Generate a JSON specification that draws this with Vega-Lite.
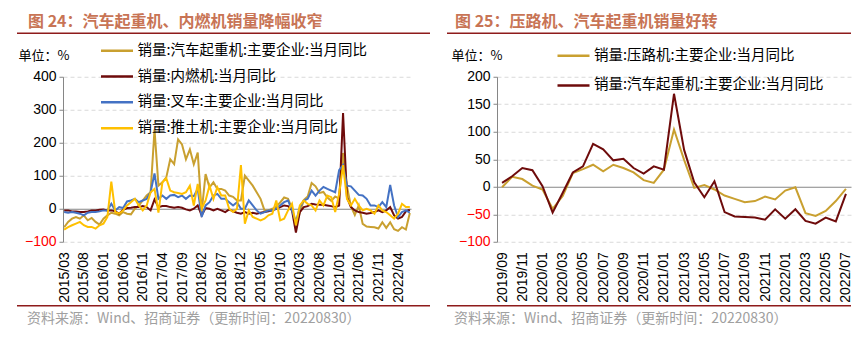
{
  "$schema": "https://vega.github.io/schema/vega-lite/v6.json",
  "padding": {"left": 17, "top": 13.5, "right": 5, "bottom": 5},
  "background": "white",
  "config": {"view": {"stroke": null}, "font": "Noto Sans CJK SC"},
  "resolve": {"scale": {"color": "independent"}},
  "spacing": 2.25,
  "datasets": {
    "left": [
      {"d":"2015/03","销量:汽车起重机:主要企业:当月同比":-56,"销量:内燃机:当月同比":-5,"销量:叉车:主要企业:当月同比":-10,"销量:推土机:主要企业:当月同比":-63},
      {"d":"2015/04","销量:汽车起重机:主要企业:当月同比":-40,"销量:内燃机:当月同比":-5,"销量:叉车:主要企业:当月同比":-12,"销量:推土机:主要企业:当月同比":-56},
      {"d":"2015/05","销量:汽车起重机:主要企业:当月同比":-30,"销量:内燃机:当月同比":-8,"销量:叉车:主要企业:当月同比":-10,"销量:推土机:主要企业:当月同比":-50},
      {"d":"2015/06","销量:汽车起重机:主要企业:当月同比":-25,"销量:内燃机:当月同比":-8,"销量:叉车:主要企业:当月同比":-12,"销量:推土机:主要企业:当月同比":-45},
      {"d":"2015/07","销量:汽车起重机:主要企业:当月同比":-30,"销量:内燃机:当月同比":-10,"销量:叉车:主要企业:当月同比":-15,"销量:推土机:主要企业:当月同比":-40},
      {"d":"2015/08","销量:汽车起重机:主要企业:当月同比":-20,"销量:内燃机:当月同比":-10,"销量:叉车:主要企业:当月同比":-20,"销量:推土机:主要企业:当月同比":-50},
      {"d":"2015/09","销量:汽车起重机:主要企业:当月同比":-35,"销量:内燃机:当月同比":-8,"销量:叉车:主要企业:当月同比":-12,"销量:推土机:主要企业:当月同比":-55},
      {"d":"2015/10","销量:汽车起重机:主要企业:当月同比":-28,"销量:内燃机:当月同比":-5,"销量:叉车:主要企业:当月同比":-10,"销量:推土机:主要企业:当月同比":-55},
      {"d":"2015/11","销量:汽车起重机:主要企业:当月同比":-40,"销量:内燃机:当月同比":-5,"销量:叉车:主要企业:当月同比":-10,"销量:推土机:主要企业:当月同比":-60},
      {"d":"2015/12","销量:汽车起重机:主要企业:当月同比":-48,"销量:内燃机:当月同比":-3,"销量:叉车:主要企业:当月同比":-8,"销量:推土机:主要企业:当月同比":-50},
      {"d":"2016/01","销量:汽车起重机:主要企业:当月同比":-30,"销量:内燃机:当月同比":-2,"销量:叉车:主要企业:当月同比":-5,"销量:推土机:主要企业:当月同比":-45},
      {"d":"2016/02","销量:汽车起重机:主要企业:当月同比":-20,"销量:内燃机:当月同比":-5,"销量:叉车:主要企业:当月同比":-5,"销量:推土机:主要企业:当月同比":-25},
      {"d":"2016/03","销量:汽车起重机:主要企业:当月同比":-12,"销量:内燃机:当月同比":-5,"销量:叉车:主要企业:当月同比":15,"销量:推土机:主要企业:当月同比":82},
      {"d":"2016/04","销量:汽车起重机:主要企业:当月同比":-15,"销量:内燃机:当月同比":-8,"销量:叉车:主要企业:当月同比":-5,"销量:推土机:主要企业:当月同比":-10},
      {"d":"2016/05","销量:汽车起重机:主要企业:当月同比":-20,"销量:内燃机:当月同比":-15,"销量:叉车:主要企业:当月同比":5,"销量:推土机:主要企业:当月同比":-15},
      {"d":"2016/06","销量:汽车起重机:主要企业:当月同比":-10,"销量:内燃机:当月同比":-3,"销量:叉车:主要企业:当月同比":2,"销量:推土机:主要企业:当月同比":-5},
      {"d":"2016/07","销量:汽车起重机:主要企业:当月同比":-15,"销量:内燃机:当月同比":2,"销量:叉车:主要企业:当月同比":22,"销量:推土机:主要企业:当月同比":10},
      {"d":"2016/08","销量:汽车起重机:主要企业:当月同比":-17,"销量:内燃机:当月同比":3,"销量:叉车:主要企业:当月同比":25,"销量:推土机:主要企业:当月同比":20},
      {"d":"2016/09","销量:汽车起重机:主要企业:当月同比":0,"销量:内燃机:当月同比":5,"销量:叉车:主要企业:当月同比":30,"销量:推土机:主要企业:当月同比":30},
      {"d":"2016/10","销量:汽车起重机:主要企业:当月同比":10,"销量:内燃机:当月同比":5,"销量:叉车:主要企业:当月同比":20,"销量:推土机:主要企业:当月同比":10},
      {"d":"2016/11","销量:汽车起重机:主要企业:当月同比":25,"销量:内燃机:当月同比":8,"销量:叉车:主要企业:当月同比":25,"销量:推土机:主要企业:当月同比":-5},
      {"d":"2016/12","销量:汽车起重机:主要企业:当月同比":40,"销量:内燃机:当月同比":5,"销量:叉车:主要企业:当月同比":30,"销量:推土机:主要企业:当月同比":10},
      {"d":"2017/01","销量:汽车起重机:主要企业:当月同比":50,"销量:内燃机:当月同比":-5,"销量:叉车:主要企业:当月同比":50,"销量:推土机:主要企业:当月同比":50},
      {"d":"2017/02","销量:汽车起重机:主要企业:当月同比":240,"销量:内燃机:当月同比":28,"销量:叉车:主要企业:当月同比":107,"销量:推土机:主要企业:当月同比":60},
      {"d":"2017/03","销量:汽车起重机:主要企业:当月同比":70,"销量:内燃机:当月同比":5,"销量:叉车:主要企业:当月同比":30,"销量:推土机:主要企业:当月同比":-12},
      {"d":"2017/04","销量:汽车起重机:主要企业:当月同比":80,"销量:内燃机:当月同比":8,"销量:叉车:主要企业:当月同比":40,"销量:推土机:主要企业:当月同比":80},
      {"d":"2017/05","销量:汽车起重机:主要企业:当月同比":95,"销量:内燃机:当月同比":8,"销量:叉车:主要企业:当月同比":30,"销量:推土机:主要企业:当月同比":92},
      {"d":"2017/06","销量:汽车起重机:主要企业:当月同比":150,"销量:内燃机:当月同比":5,"销量:叉车:主要企业:当月同比":40,"销量:推土机:主要企业:当月同比":55},
      {"d":"2017/07","销量:汽车起重机:主要企业:当月同比":135,"销量:内燃机:当月同比":3,"销量:叉车:主要企业:当月同比":42,"销量:推土机:主要企业:当月同比":50},
      {"d":"2017/08","销量:汽车起重机:主要企业:当月同比":210,"销量:内燃机:当月同比":5,"销量:叉车:主要企业:当月同比":35,"销量:推土机:主要企业:当月同比":48},
      {"d":"2017/09","销量:汽车起重机:主要企业:当月同比":195,"销量:内燃机:当月同比":3,"销量:叉车:主要企业:当月同比":40,"销量:推土机:主要企业:当月同比":45},
      {"d":"2017/10","销量:汽车起重机:主要企业:当月同比":150,"销量:内燃机:当月同比":-2,"销量:叉车:主要企业:当月同比":30,"销量:推土机:主要企业:当月同比":50},
      {"d":"2017/11","销量:汽车起重机:主要企业:当月同比":180,"销量:内燃机:当月同比":-5,"销量:叉车:主要企业:当月同比":40,"销量:推土机:主要企业:当月同比":70},
      {"d":"2017/12","销量:汽车起重机:主要企业:当月同比":135,"销量:内燃机:当月同比":0,"销量:叉车:主要企业:当月同比":38,"销量:推土机:主要企业:当月同比":10},
      {"d":"2018/01","销量:汽车起重机:主要企业:当月同比":170,"销量:内燃机:当月同比":10,"销量:叉车:主要企业:当月同比":60,"销量:推土机:主要企业:当月同比":75},
      {"d":"2018/02","销量:汽车起重机:主要企业:当月同比":-10,"销量:内燃机:当月同比":-20,"销量:叉车:主要企业:当月同比":-25,"销量:推土机:主要企业:当月同比":0},
      {"d":"2018/03","销量:汽车起重机:主要企业:当月同比":105,"销量:内燃机:当月同比":2,"销量:叉车:主要企业:当月同比":10,"销量:推土机:主要企业:当月同比":25},
      {"d":"2018/04","销量:汽车起重机:主要企业:当月同比":65,"销量:内燃机:当月同比":0,"销量:叉车:主要企业:当月同比":20,"销量:推土机:主要企业:当月同比":70},
      {"d":"2018/05","销量:汽车起重机:主要企业:当月同比":80,"销量:内燃机:当月同比":-5,"销量:叉车:主要企业:当月同比":40,"销量:推土机:主要企业:当月同比":30},
      {"d":"2018/06","销量:汽车起重机:主要企业:当月同比":60,"销量:内燃机:当月同比":0,"销量:叉车:主要企业:当月同比":45,"销量:推土机:主要企业:当月同比":65},
      {"d":"2018/07","销量:汽车起重机:主要企业:当月同比":60,"销量:内燃机:当月同比":-5,"销量:叉车:主要企业:当月同比":30,"销量:推土机:主要企业:当月同比":40},
      {"d":"2018/08","销量:汽车起重机:主要企业:当月同比":55,"销量:内燃机:当月同比":-10,"销量:叉车:主要企业:当月同比":30,"销量:推土机:主要企业:当月同比":40},
      {"d":"2018/09","销量:汽车起重机:主要企业:当月同比":40,"销量:内燃机:当月同比":-2,"销量:叉车:主要企业:当月同比":20,"销量:推土机:主要企业:当月同比":0},
      {"d":"2018/10","销量:汽车起重机:主要企业:当月同比":36,"销量:内燃机:当月同比":-8,"销量:叉车:主要企业:当月同比":10,"销量:推土机:主要企业:当月同比":-10},
      {"d":"2018/11","销量:汽车起重机:主要企业:当月同比":25,"销量:内燃机:当月同比":-12,"销量:叉车:主要企业:当月同比":20,"销量:推土机:主要企业:当月同比":0},
      {"d":"2018/12","销量:汽车起重机:主要企业:当月同比":25,"销量:内燃机:当月同比":-15,"销量:叉车:主要企业:当月同比":0,"销量:推土机:主要企业:当月同比":132},
      {"d":"2019/01","销量:汽车起重机:主要企业:当月同比":100,"销量:内燃机:当月同比":-10,"销量:叉车:主要企业:当月同比":0,"销量:推土机:主要企业:当月同比":-45},
      {"d":"2019/02","销量:汽车起重机:主要企业:当月同比":85,"销量:内燃机:当月同比":-15,"销量:叉车:主要企业:当月同比":25,"销量:推土机:主要企业:当月同比":-5},
      {"d":"2019/03","销量:汽车起重机:主要企业:当月同比":70,"销量:内燃机:当月同比":-12,"销量:叉车:主要企业:当月同比":10,"销量:推土机:主要企业:当月同比":-25},
      {"d":"2019/04","销量:汽车起重机:主要企业:当月同比":50,"销量:内燃机:当月同比":-15,"销量:叉车:主要企业:当月同比":-5,"销量:推土机:主要企业:当月同比":-30},
      {"d":"2019/05","销量:汽车起重机:主要企业:当月同比":30,"销量:内燃机:当月同比":-12,"销量:叉车:主要企业:当月同比":-15,"销量:推土机:主要企业:当月同比":-35},
      {"d":"2019/06","销量:汽车起重机:主要企业:当月同比":-5,"销量:内燃机:当月同比":-10,"销量:叉车:主要企业:当月同比":-10,"销量:推土机:主要企业:当月同比":-30},
      {"d":"2019/07","销量:汽车起重机:主要企业:当月同比":-5,"销量:内燃机:当月同比":-8,"销量:叉车:主要企业:当月同比":-5,"销量:推土机:主要企业:当月同比":-20},
      {"d":"2019/08","销量:汽车起重机:主要企业:当月同比":0,"销量:内燃机:当月同比":-5,"销量:叉车:主要企业:当月同比":-5,"销量:推土机:主要企业:当月同比":-15},
      {"d":"2019/09","销量:汽车起重机:主要企业:当月同比":7,"销量:内燃机:当月同比":0,"销量:叉车:主要企业:当月同比":0,"销量:推土机:主要企业:当月同比":25},
      {"d":"2019/10","销量:汽车起重机:主要企业:当月同比":19,"销量:内燃机:当月同比":5,"销量:叉车:主要企业:当月同比":10,"销量:推土机:主要企业:当月同比":-35},
      {"d":"2019/11","销量:汽车起重机:主要企业:当月同比":34,"销量:内燃机:当月同比":10,"销量:叉车:主要企业:当月同比":20,"销量:推土机:主要企业:当月同比":-30},
      {"d":"2019/12","销量:汽车起重机:主要企业:当月同比":30,"销量:内燃机:当月同比":8,"销量:叉车:主要企业:当月同比":25,"销量:推土机:主要企业:当月同比":-5},
      {"d":"2020/01","销量:汽车起重机:主要企业:当月同比":1,"销量:内燃机:当月同比":-5,"销量:叉车:主要企业:当月同比":-5,"销量:推土机:主要企业:当月同比":15},
      {"d":"2020/02","销量:汽车起重机:主要企业:当月同比":-47,"销量:内燃机:当月同比":-72,"销量:叉车:主要企业:当月同比":-40,"销量:推土机:主要企业:当月同比":-50},
      {"d":"2020/03","销量:汽车起重机:主要企业:当月同比":-11,"销量:内燃机:当月同比":-10,"销量:叉车:主要企业:当月同比":5,"销量:推土机:主要企业:当月同比":10},
      {"d":"2020/04","销量:汽车起重机:主要企业:当月同比":26,"销量:内燃机:当月同比":5,"销量:叉车:主要企业:当月同比":25,"销量:推土机:主要企业:当月同比":25},
      {"d":"2020/05","销量:汽车起重机:主要企业:当月同比":37,"销量:内燃机:当月同比":8,"销量:叉车:主要企业:当月同比":30,"销量:推土机:主要企业:当月同比":15},
      {"d":"2020/06","销量:汽车起重机:主要企业:当月同比":78,"销量:内燃机:当月同比":15,"销量:叉车:主要企业:当月同比":55,"销量:推土机:主要企业:当月同比":10},
      {"d":"2020/07","销量:汽车起重机:主要企业:当月同比":68,"销量:内燃机:当月同比":13,"销量:叉车:主要企业:当月同比":40,"销量:推土机:主要企业:当月同比":-5},
      {"d":"2020/08","销量:汽车起重机:主要企业:当月同比":48,"销量:内燃机:当月同比":12,"销量:叉车:主要企业:当月同比":55,"销量:推土机:主要企业:当月同比":25},
      {"d":"2020/09","销量:汽车起重机:主要企业:当月同比":51,"销量:内燃机:当月同比":12,"销量:叉车:主要企业:当月同比":66,"销量:推土机:主要企业:当月同比":10},
      {"d":"2020/10","销量:汽车起重机:主要企业:当月同比":34,"销量:内燃机:当月同比":10,"销量:叉车:主要企业:当月同比":60,"销量:推土机:主要企业:当月同比":40},
      {"d":"2020/11","销量:汽车起重机:主要企业:当月同比":24,"销量:内燃机:当月同比":8,"销量:叉车:主要企业:当月同比":55,"销量:推土机:主要企业:当月同比":35},
      {"d":"2020/12","销量:汽车起重机:主要企业:当月同比":37,"销量:内燃机:当月同比":5,"销量:叉车:主要企业:当月同比":50,"销量:推土机:主要企业:当月同比":-10},
      {"d":"2021/01","销量:汽车起重机:主要企业:当月同比":31,"销量:内燃机:当月同比":10,"销量:叉车:主要企业:当月同比":117,"销量:推土机:主要企业:当月同比":45},
      {"d":"2021/02","销量:汽车起重机:主要企业:当月同比":169,"销量:内燃机:当月同比":290,"销量:叉车:主要企业:当月同比":132,"销量:推土机:主要企业:当月同比":132},
      {"d":"2021/03","销量:汽车起重机:主要企业:当月同比":67,"销量:内燃机:当月同比":35,"销量:叉车:主要企业:当月同比":70,"销量:推土机:主要企业:当月同比":30},
      {"d":"2021/04","销量:汽车起重机:主要企业:当月同比":8,"销量:内燃机:当月同比":5,"销量:叉车:主要企业:当月同比":68,"销量:推土机:主要企业:当月同比":10},
      {"d":"2021/05","销量:汽车起重机:主要企业:当月同比":-19,"销量:内燃机:当月同比":-5,"销量:叉车:主要企业:当月同比":55,"销量:推土机:主要企业:当月同比":30},
      {"d":"2021/06","销量:汽车起重机:主要企业:当月同比":10,"销量:内燃机:当月同比":-10,"销量:叉车:主要企业:当月同比":42,"销量:推土机:主要企业:当月同比":10},
      {"d":"2021/07","销量:汽车起重机:主要企业:当月同比":-46,"销量:内燃机:当月同比":-12,"销量:叉车:主要企业:当月同比":40,"销量:推土机:主要企业:当月同比":-5},
      {"d":"2021/08","销量:汽车起重机:主要企业:当月同比":-54,"销量:内燃机:当月同比":-15,"销量:叉车:主要企业:当月同比":30,"销量:推土机:主要企业:当月同比":0},
      {"d":"2021/09","销量:汽车起重机:主要企业:当月同比":-55,"销量:内燃机:当月同比":-13,"销量:叉车:主要企业:当月同比":10,"销量:推土机:主要企业:当月同比":-5},
      {"d":"2021/10","销量:汽车起重机:主要企业:当月同比":-56,"销量:内燃机:当月同比":-10,"销量:叉车:主要企业:当月同比":10,"销量:推土机:主要企业:当月同比":-15},
      {"d":"2021/11","销量:汽车起重机:主要企业:当月同比":-60,"销量:内燃机:当月同比":-5,"销量:叉车:主要企业:当月同比":5,"销量:推土机:主要企业:当月同比":10},
      {"d":"2021/12","销量:汽车起重机:主要企业:当月同比":-41,"销量:内燃机:当月同比":-10,"销量:叉车:主要企业:当月同比":20,"销量:推土机:主要企业:当月同比":-5},
      {"d":"2022/01","销量:汽车起重机:主要企业:当月同比":-58,"销量:内燃机:当月同比":-5,"销量:叉车:主要企业:当月同比":5,"销量:推土机:主要企业:当月同比":-10},
      {"d":"2022/02","销量:汽车起重机:主要企业:当月同比":-41,"销量:内燃机:当月同比":5,"销量:叉车:主要企业:当月同比":72,"销量:推土机:主要企业:当月同比":-20},
      {"d":"2022/03","销量:汽车起重机:主要企业:当月同比":-62,"销量:内燃机:当月同比":-20,"销量:叉车:主要企业:当月同比":10,"销量:推土机:主要企业:当月同比":-30},
      {"d":"2022/04","销量:汽车起重机:主要企业:当月同比":-67,"销量:内燃机:当月同比":-30,"销量:叉车:主要企业:当月同比":-25,"销量:推土机:主要企业:当月同比":-15},
      {"d":"2022/05","销量:汽车起重机:主要企业:当月同比":-56,"销量:内燃机:当月同比":-25,"销量:叉车:主要企业:当月同比":-10,"销量:推土机:主要企业:当月同比":15},
      {"d":"2022/06","销量:汽车起重机:主要企业:当月同比":-63,"销量:内燃机:当月同比":-8,"销量:叉车:主要企业:当月同比":-5,"销量:推土机:主要企业:当月同比":5},
      {"d":"2022/07","销量:汽车起重机:主要企业:当月同比":-13,"销量:内燃机:当月同比":-3,"销量:叉车:主要企业:当月同比":-12,"销量:推土机:主要企业:当月同比":5}
    ],
    "right": [
      {"d":"2019/09","销量:压路机:主要企业:当月同比":-1,"销量:汽车起重机:主要企业:当月同比":7},
      {"d":"2019/10","销量:压路机:主要企业:当月同比":18,"销量:汽车起重机:主要企业:当月同比":19},
      {"d":"2019/11","销量:压路机:主要企业:当月同比":14,"销量:汽车起重机:主要企业:当月同比":34},
      {"d":"2019/12","销量:压路机:主要企业:当月同比":2,"销量:汽车起重机:主要企业:当月同比":30},
      {"d":"2020/01","销量:压路机:主要企业:当月同比":-5,"销量:汽车起重机:主要企业:当月同比":1},
      {"d":"2020/02","销量:压路机:主要企业:当月同比":-40,"销量:汽车起重机:主要企业:当月同比":-47},
      {"d":"2020/03","销量:压路机:主要企业:当月同比":-17,"销量:汽车起重机:主要企业:当月同比":-11},
      {"d":"2020/04","销量:压路机:主要企业:当月同比":25,"销量:汽车起重机:主要企业:当月同比":26},
      {"d":"2020/05","销量:压路机:主要企业:当月同比":32,"销量:汽车起重机:主要企业:当月同比":37},
      {"d":"2020/06","销量:压路机:主要企业:当月同比":40,"销量:汽车起重机:主要企业:当月同比":78},
      {"d":"2020/07","销量:压路机:主要企业:当月同比":28,"销量:汽车起重机:主要企业:当月同比":68},
      {"d":"2020/08","销量:压路机:主要企业:当月同比":40,"销量:汽车起重机:主要企业:当月同比":48},
      {"d":"2020/09","销量:压路机:主要企业:当月同比":34,"销量:汽车起重机:主要企业:当月同比":51},
      {"d":"2020/10","销量:压路机:主要企业:当月同比":26,"销量:汽车起重机:主要企业:当月同比":34},
      {"d":"2020/11","销量:压路机:主要企业:当月同比":12,"销量:汽车起重机:主要企业:当月同比":24},
      {"d":"2020/12","销量:压路机:主要企业:当月同比":7,"销量:汽车起重机:主要企业:当月同比":37},
      {"d":"2021/01","销量:压路机:主要企业:当月同比":31,"销量:汽车起重机:主要企业:当月同比":31},
      {"d":"2021/02","销量:压路机:主要企业:当月同比":104,"销量:汽车起重机:主要企业:当月同比":169},
      {"d":"2021/03","销量:压路机:主要企业:当月同比":49,"销量:汽车起重机:主要企业:当月同比":67},
      {"d":"2021/04","销量:压路机:主要企业:当月同比":-2,"销量:汽车起重机:主要企业:当月同比":8},
      {"d":"2021/05","销量:压路机:主要企业:当月同比":3,"销量:汽车起重机:主要企业:当月同比":-19},
      {"d":"2021/06","销量:压路机:主要企业:当月同比":-5,"销量:汽车起重机:主要企业:当月同比":10},
      {"d":"2021/07","销量:压路机:主要企业:当月同比":-16,"销量:汽车起重机:主要企业:当月同比":-46},
      {"d":"2021/08","销量:压路机:主要企业:当月同比":-22,"销量:汽车起重机:主要企业:当月同比":-54},
      {"d":"2021/09","销量:压路机:主要企业:当月同比":-28,"销量:汽车起重机:主要企业:当月同比":-55},
      {"d":"2021/10","销量:压路机:主要企业:当月同比":-26,"销量:汽车起重机:主要企业:当月同比":-56},
      {"d":"2021/11","销量:压路机:主要企业:当月同比":-18,"销量:汽车起重机:主要企业:当月同比":-60},
      {"d":"2021/12","销量:压路机:主要企业:当月同比":-23,"销量:汽车起重机:主要企业:当月同比":-41},
      {"d":"2022/01","销量:压路机:主要企业:当月同比":-7,"销量:汽车起重机:主要企业:当月同比":-58},
      {"d":"2022/02","销量:压路机:主要企业:当月同比":-1,"销量:汽车起重机:主要企业:当月同比":-41},
      {"d":"2022/03","销量:压路机:主要企业:当月同比":-48,"销量:汽车起重机:主要企业:当月同比":-62},
      {"d":"2022/04","销量:压路机:主要企业:当月同比":-53,"销量:汽车起重机:主要企业:当月同比":-67},
      {"d":"2022/05","销量:压路机:主要企业:当月同比":-44,"销量:汽车起重机:主要企业:当月同比":-56},
      {"d":"2022/06","销量:压路机:主要企业:当月同比":-26,"销量:汽车起重机:主要企业:当月同比":-63},
      {"d":"2022/07","销量:压路机:主要企业:当月同比":-4,"销量:汽车起重机:主要企业:当月同比":-13}
    ]
  },
  "vconcat": [
    {
      "spacing": 17,
      "hconcat": [
        {
          "width": 413, "height": 1.5,
          "data": {"values": []},
          "mark": "text", "encoding": {},
          "view": {"fill": "#8E1B1B", "stroke": null},
          "title": {"text": "图 24：汽车起重机、内燃机销量降幅收窄", "anchor": "start", "frame": "group", "orient": "top", "offset": 3, "dx": 11, "fontSize": 16, "fontWeight": "bold", "color": "#C87455", "font": "Noto Sans CJK SC"}
        },
        {
          "width": 404, "height": 1.5,
          "data": {"values": []},
          "mark": "text", "encoding": {},
          "view": {"fill": "#8E1B1B", "stroke": null},
          "title": {"text": "图 25：压路机、汽车起重机销量好转", "anchor": "start", "frame": "group", "orient": "top", "offset": 3, "dx": 8, "fontSize": 16, "fontWeight": "bold", "color": "#C87455", "font": "Noto Sans CJK SC"}
        }
      ]
    },
    {
      "spacing": 37,
      "resolve": {"scale": {"color": "independent"}},
      "hconcat": [
        {
          "spacing": 0,
          "hconcat": [
            {
              "width": 0.5, "height": 1,
              "data": {"values": []},
              "mark": "text", "encoding": {}
            },
            {
              "width": 348, "height": 165,
              "data": {"name": "left"},
              "transform": [{"fold": ["销量:汽车起重机:主要企业:当月同比", "销量:内燃机:当月同比", "销量:叉车:主要企业:当月同比", "销量:推土机:主要企业:当月同比"], "as": ["series", "value"]}],
              "mark": {"type": "line", "strokeWidth": 2},
              "encoding": {
                "x": {"field": "d", "type": "ordinal", "scale": {"type": "point", "padding": 0.3},
                  "axis": {"values": ["2015/03","2015/08","2016/01","2016/06","2016/11","2017/04","2017/09","2018/02","2018/07","2018/12","2019/05","2019/10","2020/03","2020/08","2021/01","2021/06","2021/11","2022/04"],
                    "labelAngle": -90, "labelFont": "Liberation Sans", "labelFontSize": 14, "labelColor": "#000000", "ticks": false, "domain": false, "grid": false, "labelPadding": 10, "title": null, "labelOverlap": false}},
                "y": {"field": "value", "type": "quantitative", "scale": {"domain": [-100, 400], "nice": false, "zero": false},
                  "axis": {"values": [-100, 0, 100, 200, 300, 400], "title": "单位：%", "titleAngle": 0, "titleAlign": "left", "titleBaseline": "middle", "titleX": -45, "titleY": -21, "titleFont": "Noto Sans CJK SC", "titleFontSize": 13, "titleFontWeight": "normal", "titleColor": "#000000",
                    "labelFont": "Liberation Sans", "labelFontSize": 14, "labelPadding": 3,
                    "labelColor": {"condition": {"test": "datum.value < 0", "value": "#FF0000"}, "value": "#000000"},
                    "domainColor": "#868686", "tickColor": "#868686", "tickSize": 4,
                    "gridColor": {"condition": {"test": "datum.value === 0", "value": "#868686"}, "value": "#D9D9D9"},
                    "gridDash": {"condition": {"test": "datum.value === 0", "value": []}, "value": [4, 3]}}},
                "color": {"field": "series", "type": "nominal",
                  "scale": {"domain": ["销量:汽车起重机:主要企业:当月同比", "销量:内燃机:当月同比", "销量:叉车:主要企业:当月同比", "销量:推土机:主要企业:当月同比"], "range": ["#C9A030", "#6E0B0B", "#4472C4", "#FFC000"]},
                  "legend": {"title": null, "orient": "none", "legendX": 76.5, "legendY": -40, "direction": "vertical", "padding": 6, "symbolType": "stroke", "symbolSize": 1024, "symbolStrokeWidth": 2.5, "clipHeight": 16, "rowPadding": 9.8, "labelOffset": 3, "labelFont": "Noto Sans CJK SC", "labelFontSize": 14.5, "labelColor": "#000000", "labelLimit": 500}}
              }
            }
          ]
        },
        {
          "width": 354, "height": 165,
          "data": {"name": "right"},
          "transform": [{"fold": ["销量:压路机:主要企业:当月同比", "销量:汽车起重机:主要企业:当月同比"], "as": ["series", "value"]}],
          "mark": {"type": "line", "strokeWidth": 2},
          "encoding": {
            "x": {"field": "d", "type": "ordinal", "scale": {"type": "point", "padding": 0.5},
              "axis": {"values": ["2019/09","2019/11","2020/01","2020/03","2020/05","2020/07","2020/09","2020/11","2021/01","2021/03","2021/05","2021/07","2021/09","2021/11","2022/01","2022/03","2022/05","2022/07"],
                "labelAngle": -90, "labelFont": "Liberation Sans", "labelFontSize": 14, "labelColor": "#000000", "ticks": false, "domain": false, "grid": false, "labelPadding": 10, "title": null, "labelOverlap": false}},
            "y": {"field": "value", "type": "quantitative", "scale": {"domain": [-100, 200], "nice": false, "zero": false},
              "axis": {"values": [-100, -50, 0, 50, 100, 150, 200], "title": "单位：%", "titleAngle": 0, "titleAlign": "left", "titleBaseline": "middle", "titleX": -46, "titleY": -21, "titleFont": "Noto Sans CJK SC", "titleFontSize": 13, "titleFontWeight": "normal", "titleColor": "#000000",
                "labelFont": "Liberation Sans", "labelFontSize": 14, "labelPadding": 3,
                "labelColor": {"condition": {"test": "datum.value < 0", "value": "#FF0000"}, "value": "#000000"},
                "domainColor": "#868686", "tickColor": "#868686", "tickSize": 4,
                "gridColor": {"condition": {"test": "datum.value === 0", "value": "#868686"}, "value": "#D9D9D9"},
                "gridDash": {"condition": {"test": "datum.value === 0", "value": []}, "value": [4, 3]}}},
            "color": {"field": "series", "type": "nominal",
              "scale": {"domain": ["销量:压路机:主要企业:当月同比", "销量:汽车起重机:主要企业:当月同比"], "range": ["#C9A030", "#6E0B0B"]},
              "legend": {"title": null, "orient": "none", "legendX": 53, "legendY": -35, "direction": "vertical", "padding": 6, "symbolType": "stroke", "symbolSize": 1024, "symbolStrokeWidth": 2.5, "clipHeight": 16, "rowPadding": 13.7, "labelOffset": 3, "labelFont": "Noto Sans CJK SC", "labelFontSize": 14.5, "labelColor": "#000000", "labelLimit": 500}}
          }
        }
      ]
    },
    {
      "spacing": 17,
      "hconcat": [
        {
          "width": 413, "height": 1.5,
          "data": {"values": []},
          "mark": "text", "encoding": {},
          "view": {"fill": "#8E1B1B", "stroke": null},
          "title": {"text": "资料来源：Wind、招商证券（更新时间：20220830）", "anchor": "start", "frame": "group", "orient": "bottom", "offset": 5, "dx": 10, "fontSize": 14, "fontWeight": "normal", "color": "#A0A0A0", "font": "Noto Sans CJK SC"}
        },
        {
          "width": 404, "height": 1.5,
          "data": {"values": []},
          "mark": "text", "encoding": {},
          "view": {"fill": "#8E1B1B", "stroke": null},
          "title": {"text": "资料来源：Wind、招商证券（更新时间：20220830）", "anchor": "start", "frame": "group", "orient": "bottom", "offset": 5, "dx": 7, "fontSize": 14, "fontWeight": "normal", "color": "#A0A0A0", "font": "Noto Sans CJK SC"}
        }
      ]
    }
  ]
}
